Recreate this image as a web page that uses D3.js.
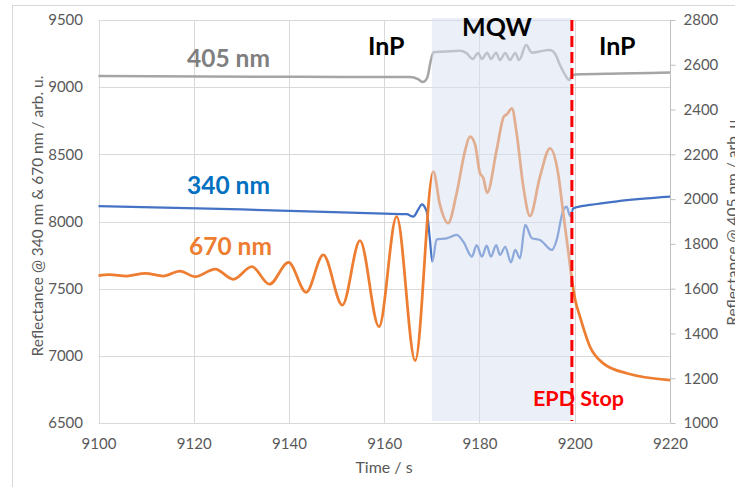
<!DOCTYPE html>
<html>
<head>
<meta charset="utf-8">
<script src="https://cdn.jsdelivr.net/npm/d3@7/dist/d3.min.js"></script>
<style>
  html, body { margin: 0; padding: 0; background: #fff; }
  svg { display: block; }
  text { font-family: Lato, "Open Sans", sans-serif; }
</style>
</head>
<body>
<svg id="chart" width="735" height="487"></svg>
<script>
// ---------- data ----------
const xTicks = [9100, 9120, 9140, 9160, 9180, 9200, 9220];
const leftTicks = [6500, 7000, 7500, 8000, 8500, 9000, 9500];
const rightTicks = [1000, 1200, 1400, 1600, 1800, 2000, 2200, 2400, 2600, 2800];

// 405 nm (right axis)
const time405 = [9100, 9142.3, 9165.4, 9167.1, 9168.1, 9169.0, 9169.8, 9170.4, 9172.8, 9175.9, 9177.2,
  9178.6, 9179.7, 9180.5, 9181.6, 9182.4, 9183.5, 9184.3, 9185.4, 9186.4, 9187.5, 9188.3, 9189.8,
  9191.0, 9193.8, 9194.8, 9195.9, 9196.9, 9198.0, 9198.8, 9199.4, 9200.1, 9209.5, 9220];
const val405 = [2550, 2546, 2545, 2536, 2523, 2541, 2621, 2657, 2659, 2663, 2653,
  2626, 2653, 2626, 2654, 2626, 2654, 2621, 2653, 2621, 2653, 2621, 2688,
  2654, 2664, 2666, 2648, 2599, 2554, 2532, 2550, 2557, 2561, 2565];

// 340 nm (left axis)
const time340 = [9100, 9130, 9160, 9164.7, 9166.1, 9167.1, 9167.9, 9168.6, 9169.0, 9169.6, 9170.1,
  9171.0, 9173.1, 9175.2, 9176.6, 9178.4, 9179.4, 9180.5, 9181.5, 9182.4, 9183.5, 9184.3, 9185.4,
  9186.6, 9187.5, 9188.5, 9189.6, 9191.0, 9192.7, 9195.2, 9196.2, 9197.5, 9198.3, 9199.0, 9199.7,
  9203.2, 9209.5, 9220];
const val340 = [8115, 8090, 8058, 8054, 8036, 8086, 8128, 8100, 8061, 7862, 7701,
  7867, 7875, 7900, 7850, 7738, 7825, 7738, 7820, 7738, 7825, 7751, 7812,
  7696, 7788, 7726, 7974, 7875, 7862, 7788, 7862, 8073, 8110, 8041, 8098,
  8123, 8153, 8185];

// 670 nm (left axis)
const time670 = [9100, 9102.3, 9105.9, 9109.8, 9113.6, 9117.1, 9120.3, 9124.5, 9128.3, 9132.2,
  9135.9, 9139.9, 9143.6, 9147.2, 9151.2, 9154.9, 9158.9, 9162.6, 9166.5, 9170.3,
  9171.7, 9173.4, 9175.2, 9177.0, 9178.0, 9179.1, 9180.1, 9180.8, 9181.6, 9183.6, 9185.1,
  9185.8, 9186.8, 9187.8, 9189.2, 9190.6, 9192.7, 9194.8, 9196.5, 9197.5, 9198.6, 9199.4,
  9200.1, 9201.1, 9203.2, 9206.0, 9210.9, 9220];
const val670 = [7597, 7605, 7594, 7614, 7594, 7631, 7589, 7646, 7570, 7664,
  7533, 7696, 7473, 7751, 7378, 7857, 7217, 8036, 6964, 8371,
  8123, 7987, 8210, 8532, 8631, 8569, 8359, 8324, 8214, 8532, 8780,
  8800, 8843, 8657, 8259, 8041, 8334, 8545, 8359, 8086, 7788, 7565,
  7416, 7291, 7068, 6944, 6870, 6820];

const mqwStart = 9170, mqwEnd = 9199.4, epdStop = 9199.4;

// ---------- drawing ----------
const svg = d3.select("#chart");
const pLeft = 98.5, pRight = 670, pTop = 20, pBottom = 423;

const x = d3.scaleLinear().domain([9100, 9220]).range([pLeft, pRight]);
const yL = d3.scaleLinear().domain([6500, 9500]).range([pBottom, pTop]);
const yR = d3.scaleLinear().domain([1000, 2800]).range([pBottom, pTop]);

const tickColor = "#595959";
const gridColor = "#d9d9d9";

// chart border
svg.append("rect").attr("x", 12.5).attr("y", 5.5).attr("width", 800).attr("height", 600)
  .attr("fill", "none").attr("stroke", gridColor).attr("stroke-width", 1);

// gridlines
svg.append("g").selectAll("line").data(leftTicks.slice(1)).join("line")
  .attr("x1", pLeft).attr("x2", pRight)
  .attr("y1", d => Math.round(yL(d)) + 0.5).attr("y2", d => Math.round(yL(d)) + 0.5)
  .attr("stroke", gridColor).attr("stroke-width", 1);
svg.append("g").selectAll("line").data(xTicks.slice(0, -1)).join("line")
  .attr("x1", d => Math.round(x(d)) + 0.5).attr("x2", d => Math.round(x(d)) + 0.5)
  .attr("y1", pTop).attr("y2", pBottom)
  .attr("stroke", gridColor).attr("stroke-width", 1);

// axes
const axL = svg.append("g").attr("transform", `translate(${pLeft},0)`)
  .call(d3.axisLeft(yL).tickValues(leftTicks).tickSize(0).tickPadding(15.5).tickFormat(d3.format("d")));
axL.select(".domain").remove();
const axB = svg.append("g").attr("transform", `translate(0,${pBottom + 0.5})`)
  .call(d3.axisBottom(x).tickValues(xTicks).tickSize(0).tickPadding(15).tickFormat(d3.format("d")));
axB.select(".domain").attr("stroke", gridColor).attr("d", `M${pLeft},0H${pRight}`);
const axR = svg.append("g").attr("transform", `translate(${pRight + 0.5},0)`)
  .call(d3.axisRight(yR).tickValues(rightTicks).tickSize(5).tickPadding(8).tickFormat(d3.format("d")));
axR.select(".domain").attr("stroke", "#bfbfbf").attr("d", `M0,${pTop}V${pBottom}`);
axR.selectAll(".tick line").attr("stroke", "#bfbfbf");
[axL, axB, axR].forEach(a => a.selectAll("text")
  .attr("fill", tickColor).style("font-size", "15px").style("font-family", "Lato, sans-serif"));

// lines
const curve = d3.curveMonotoneX;
const line405 = d3.line().x(d => x(d[0])).y(d => yR(d[1])).curve(curve);
const lineL = d3.line().x(d => x(d[0])).y(d => yL(d[1])).curve(curve);

svg.append("path").datum(time405.map((t, i) => [t, val405[i]]))
  .attr("d", line405).attr("fill", "none").attr("stroke", "#a5a5a5").attr("stroke-width", 2.5)
  .attr("stroke-linejoin", "round");
svg.append("path").datum(time340.map((t, i) => [t, val340[i]]))
  .attr("d", lineL).attr("fill", "none").attr("stroke", "#4472c4").attr("stroke-width", 2.25)
  .attr("stroke-linejoin", "round");
svg.append("path").datum(time670.map((t, i) => [t, val670[i]]))
  .attr("d", lineL).attr("fill", "none").attr("stroke", "#ed7d31").attr("stroke-width", 2.75)
  .attr("stroke-linejoin", "round");

// MQW shaded region (overlay)
svg.append("rect")
  .attr("x", x(mqwStart)).attr("y", pTop - 2)
  .attr("width", x(mqwEnd) - x(mqwStart)).attr("height", pBottom - pTop)
  .attr("fill", "#d6e0f2").attr("fill-opacity", 0.5);

// EPD stop dashed line
svg.append("line")
  .attr("x1", x(epdStop)).attr("x2", x(epdStop)).attr("y1", pTop).attr("y2", pBottom - 2)
  .attr("stroke", "#ff0000").attr("stroke-width", 3).attr("stroke-dasharray", "11,5");

// axis titles
svg.append("text").attr("x", 384).attr("y", 473).attr("text-anchor", "middle")
  .attr("fill", tickColor).style("font-size", "16px").text("Time / s");
svg.append("text").attr("transform", "translate(43,216) rotate(-90)").attr("text-anchor", "middle")
  .attr("fill", tickColor).style("font-size", "15.5px").text("Reflectance @ 340 nm & 670 nm / arb. u.");
svg.append("text").attr("transform", "translate(738,221) rotate(-90)").attr("text-anchor", "middle")
  .attr("fill", tickColor).style("font-size", "15.5px").text("Reflectance @ 405 nm / arb. u.");

// annotations
const ann = [
  {t: "405 nm", x: 187, y: 67, c: "#7f7f7f", s: 24.5},
  {t: "340 nm", x: 187, y: 194, c: "#0070c0", s: 24.5},
  {t: "670 nm", x: 189, y: 255, c: "#ed7d31", s: 24.5},
  {t: "InP", x: 368, y: 55, c: "#000000", s: 25},
  {t: "MQW", x: 462, y: 36, c: "#000000", s: 25},
  {t: "InP", x: 599, y: 55, c: "#000000", s: 25},
  {t: "EPD Stop", x: 533, y: 406, c: "#ff0000", s: 21.5}
];
svg.append("g").selectAll("text").data(ann).join("text")
  .attr("x", d => d.x).attr("y", d => d.y).attr("fill", d => d.c)
  .style("font-size", d => d.s + "px").style("font-weight", "bold").text(d => d.t);
</script>
</body>
</html>
